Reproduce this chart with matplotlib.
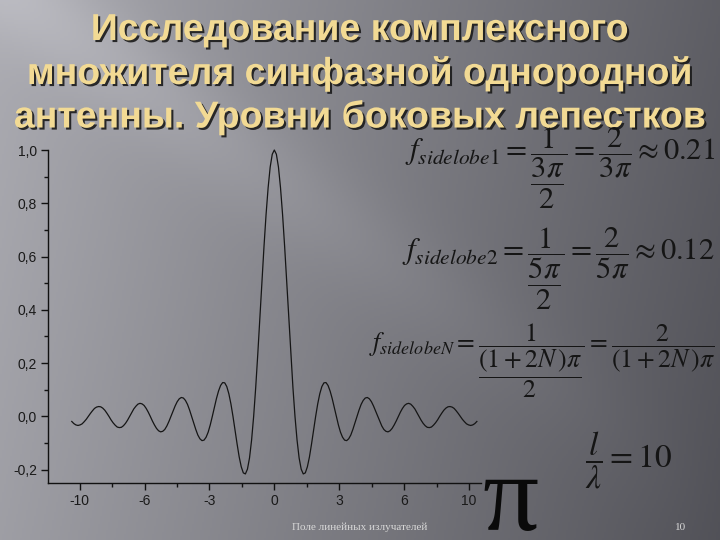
import numpy as np
import matplotlib
matplotlib.use("Agg")
import matplotlib.pyplot as plt
import matplotlib.patheffects as pe
from matplotlib.ticker import FixedLocator, MultipleLocator

# array factor of the uniform in-phase antenna
# (right half; the pattern is symmetric about 0)
x_right = [0.0, 0.1, 0.2, 0.3, 0.4, 0.5, 0.6, 0.7, 0.8, 0.9,
           1.0, 1.1, 1.2, 1.3, 1.4, 1.5, 1.6, 1.7, 1.8, 1.9,
           2.0, 2.1, 2.2, 2.3, 2.4, 2.5, 2.6, 2.7, 2.8, 2.9,
           3.0, 3.1, 3.2, 3.3, 3.4, 3.5, 3.6, 3.7, 3.8, 3.9,
           4.0, 4.1, 4.2, 4.3, 4.4, 4.5, 4.6, 4.7, 4.8, 4.9,
           5.0, 5.1, 5.2, 5.3, 5.4, 5.5, 5.6, 5.7, 5.8, 5.9,
           6.0, 6.1, 6.2, 6.3, 6.4, 6.5, 6.6, 6.7, 6.8, 6.9,
           7.0, 7.1, 7.2, 7.3, 7.4, 7.5, 7.6, 7.7, 7.8, 7.9,
           8.0, 8.1, 8.2, 8.3, 8.4, 8.5, 8.6, 8.7, 8.8, 8.9,
           9.0, 9.1, 9.2, 9.3, 9.4, 9.5, 9.6, 9.7, 9.8]
f_right = [1.0, 0.984, 0.936, 0.858, 0.757, 0.637, 0.505, 0.368, 0.234, 0.109,
           0.0, -0.089, -0.156, -0.198, -0.216, -0.212, -0.189, -0.152, -0.104, -0.052,
           0.0, 0.047, 0.085, 0.112, 0.126, 0.127, 0.116, 0.095, 0.067, 0.034,
           0.0, -0.032, -0.059, -0.078, -0.089, -0.091, -0.084, -0.070, -0.049, -0.025,
           0.0, 0.024, 0.045, 0.060, 0.069, 0.071, 0.066, 0.055, 0.039, 0.020,
           0.0, -0.019, -0.036, -0.049, -0.056, -0.058, -0.054, -0.045, -0.032, -0.017,
           0.0, 0.016, 0.030, 0.041, 0.047, 0.049, 0.046, 0.038, 0.028, 0.014,
           0.0, -0.014, -0.026, -0.035, -0.041, -0.042, -0.040, -0.033, -0.024, -0.013,
           0.0, 0.012, 0.023, 0.031, 0.036, 0.037, 0.035, 0.030, 0.021, 0.011,
           0.0, -0.011, -0.020, -0.028, -0.032, -0.034, -0.032, -0.027, -0.019]

x_tick_pos = [-9.42, -6.28, -3.14, 0.0, 3.14, 6.28, 9.42]
x_tick_lbl = ["-10", "-6", "-3", "0", "3", "6", "10"]
y_tick_pos = [-0.2, 0.0, 0.2, 0.4, 0.6, 0.8, 1.0]
y_tick_lbl = ["-0,2", "0,0", "0,2", "0,4", "0,6", "0,8", "1,0"]

title_lines = ["Исследование комплексного",
               "множителя синфазной однородной",
               "антенны. Уровни боковых лепестков"]

x_vals = [-v for v in x_right[::-1]] + x_right[1:]
f_vals = f_right[::-1] + f_right[1:]

W, H = 720, 540
fig = plt.figure(figsize=(7.2, 5.4), dpi=100)

def fx(px):
    return px / W

def fy(py):
    return 1 - py / H

# slide background: grey gradient with a light diagonal streak
bg = fig.add_axes([0, 0, 1, 1])
gx, gy = np.meshgrid(np.linspace(0, 1, 360), np.linspace(0, 1, 270))
base = 0.67 - 0.30 * gx - 0.05 * gy
d = (gy * 540 - (0.72 * gx * 720 - 20)) / 60.0
streak = 0.07 * np.exp(-d ** 2) * (1 - gx)
img = np.clip(base + streak, 0, 1)
rgb = np.dstack([img, img, img + 0.025])
bg.imshow(np.clip(rgb, 0, 1), extent=[0, 1, 0, 1], aspect="auto", origin="upper")
bg.set_axis_off()

# the plot
ax = fig.add_axes([fx(48), fy(483), fx(481) - fx(48), fy(150) - fy(483)])
ax.patch.set_alpha(0)
ax.plot(x_vals, f_vals, color="#151515", lw=0.9, clip_on=False)
ax.set_xlim(-10.95, 10.0)
ax.set_ylim(-0.25, 1.0)
for s in ["top", "right"]:
    ax.spines[s].set_visible(False)
for s in ["left", "bottom"]:
    ax.spines[s].set_color("#111111")
    ax.spines[s].set_linewidth(1.0)
ax.xaxis.set_major_locator(FixedLocator(x_tick_pos))
ax.set_xticklabels(x_tick_lbl)
ax.xaxis.set_minor_locator(FixedLocator([p + 1.57 for p in x_tick_pos[:-1]]))
ax.yaxis.set_major_locator(FixedLocator(y_tick_pos))
ax.set_yticklabels(y_tick_lbl)
ax.yaxis.set_minor_locator(MultipleLocator(0.1))
ax.tick_params(which="major", direction="out", length=5, width=1, color="#111111",
               labelsize=10, labelcolor="#1a1a1a", pad=3)
ax.tick_params(which="minor", direction="out", length=3, width=1, color="#111111")
for lbl in ax.get_xticklabels() + ax.get_yticklabels():
    lbl.set_fontfamily("Liberation Sans")

# title
for i, line in enumerate(title_lines):
    fig.text(fx(360), fy(30 + 43.5 * i), line, ha="center", va="center",
             fontsize=27, fontweight="bold", family="Liberation Sans",
             color="#f2da94",
             path_effects=[pe.withSimplePatchShadow(offset=(1.5, -1.5),
                                                     shadow_rgbFace="#1a1a1a", alpha=0.9)])

# formulas
plt.rcParams["mathtext.fontset"] = "stix"
fcol = "#151515"
fig.text(fx(715), fy(126),
         r"$f_{sidelobe1} = \dfrac{1}{\dfrac{3\pi}{2}} = \dfrac{2}{3\pi} \approx 0.21$",
         ha="right", va="top", fontsize=22, color=fcol)
fig.text(fx(715), fy(226),
         r"$f_{sidelobe2} = \dfrac{1}{\dfrac{5\pi}{2}} = \dfrac{2}{5\pi} \approx 0.12$",
         ha="right", va="top", fontsize=22, color=fcol)
fig.text(fx(715), fy(322),
         r"$f_{sidelobeN} = \dfrac{1}{\dfrac{(1+2N\,)\pi}{2}} = \dfrac{2}{(1+2N\,)\pi}$",
         ha="right", va="top", fontsize=18.5, color=fcol)
fig.text(fx(585), fy(460), r"$\dfrac{l}{\lambda} = 10$",
         ha="left", va="center", fontsize=24, color=fcol)

# big pi
fig.text(fx(510), fy(503), "π", ha="center", va="center", fontsize=80,
         family="Liberation Serif", color="#0a0a0a")

# footer
fig.text(fx(360), fy(527), "Поле линейных излучателей", ha="center", va="center",
         fontsize=8, family="Liberation Serif", color="#d8d8d8")
fig.text(fx(681), fy(527), "10", ha="center", va="center",
         fontsize=8, family="Liberation Serif", color="#d8d8d8")

fig.savefig("out.png", dpi=100)
